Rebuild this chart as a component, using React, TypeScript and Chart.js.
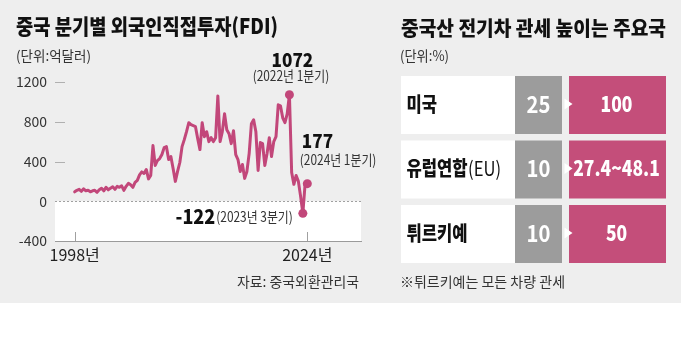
import React, { useEffect, useRef } from "react";
import { Chart, registerables } from "chart.js";
Chart.register(...registerables);

// ---------- data ----------
const startYear = 1998; // first value = 1998 Q1, quarterly
const fdiValues = [
  95, 110, 120, 100, 125, 105, 110, 95,
  105, 110, 90, 115, 130, 105, 140, 115,
  130, 145, 120, 150, 140, 155, 110, 150,
  180, 165, 140, 190, 210, 265, 295, 280,
  320, 225, 260, 560, 360, 410, 430, 470,
  540, 550, 420, 450, 330, 200, 300, 390,
  550, 620, 700, 790, 770, 760, 750, 630,
  520, 790, 650, 700, 600, 640, 600, 640,
  1060, 600, 700, 880, 720, 680, 580, 710,
  470, 420, 300, 370, 230, 300, 480, 780,
  820, 700, 310, 590, 580, 360, 480, 640,
  450, 600, 650, 970, 960, 840, 790, 880,
  1072, 290, 170, 260, 200, 49, -122, 170, 177,
];
const yTicks = [-400, 0, 400, 800, 1200];
const xTickYears = [1998, 2024];
const highlightIndex = [96, 102, 104];
const highlightValue = ["1072", "-122", "177"];
const highlightPeriod = ["(2022년 1분기)", "(2023년 3분기)", "(2024년 1분기)"];

const countries = ["미국", "유럽연합", "튀르키예"];
const countrySuffix = ["", "(EU)", ""];
const tariffBefore = ["25", "10", "10"];
const tariffAfter = ["100", "27.4~48.1", "50"];

// ---------- style ----------
const FONT = "'Noto Sans CJK KR', 'Noto Sans', sans-serif";
const PINK = "#c2477a";
const PINK_BOX = "#c44e7a";
const GRAY_BOX = "#9c9c9c";
const BG = "#eeeeee";

function fitText(
  ctx: CanvasRenderingContext2D,
  text: string,
  x: number,
  cy: number,
  font: string,
  color: string,
  width: number,
  align: "left" | "right" | "center" = "left"
) {
  ctx.save();
  ctx.font = font;
  const w = ctx.measureText(text).width;
  const s = width / w;
  const left = align === "left" ? x : align === "right" ? x - width : x - width / 2;
  ctx.fillStyle = color;
  ctx.textBaseline = "middle";
  ctx.textAlign = "left";
  ctx.translate(left, cy);
  ctx.scale(s, 1);
  ctx.fillText(text, 0, 0);
  ctx.restore();
}

function scaledText(
  ctx: CanvasRenderingContext2D,
  text: string,
  x: number,
  cy: number,
  font: string,
  color: string,
  s: number,
  align: "left" | "center" = "left"
) {
  ctx.save();
  ctx.font = font;
  const w = ctx.measureText(text).width * s;
  const left = align === "left" ? x : x - w / 2;
  ctx.fillStyle = color;
  ctx.textBaseline = "middle";
  ctx.textAlign = "left";
  ctx.translate(left, cy);
  ctx.scale(s, 1);
  ctx.fillText(text, 0, 0);
  ctx.restore();
  return w;
}

const bgPlugin = {
  id: "bgPlugin",
  beforeDraw(chart: any) {
    const { ctx, chartArea: a, scales } = chart;
    const y = scales.y;
    const x = scales.x;
    ctx.save();
    ctx.fillStyle = "#ffffff";
    ctx.fillRect(0, 0, chart.width, chart.height);
    ctx.fillStyle = BG;
    ctx.fillRect(0, 0, chart.width, 303);
    const y0 = y.getPixelForValue(0);
    ctx.fillStyle = "#ffffff";
    ctx.fillRect(a.left, y0, a.right - a.left, a.bottom - y0);
    // zero dotted line
    ctx.strokeStyle = "#a0a0a0";
    ctx.lineWidth = 1;
    ctx.setLineDash([2, 2]);
    ctx.beginPath();
    ctx.moveTo(a.left, Math.round(y0) + 0.5);
    ctx.lineTo(a.right, Math.round(y0) + 0.5);
    ctx.stroke();
    ctx.setLineDash([]);
    // short tick dashes for positive y ticks
    ctx.strokeStyle = "#b0b0b0";
    yTicks
      .filter((v) => v > 0)
      .forEach((v) => {
        const py = Math.round(y.getPixelForValue(v)) + 0.5;
        ctx.beginPath();
        ctx.moveTo(a.left, py);
        ctx.lineTo(a.left + 10, py);
        ctx.stroke();
      });
    // x tick marks pointing up
    ctx.strokeStyle = "#a0a0a0";
    xTickYears.forEach((yr) => {
      const px = Math.round(x.getPixelForValue(yr)) + 0.5;
      ctx.beginPath();
      ctx.moveTo(px, a.bottom);
      ctx.lineTo(px, a.bottom - 9);
      ctx.stroke();
    });

    // ---- right table ----
    const rowTop0 = 76;
    const rowH = 58;
    const rowGap = 6.5;
    const labelX0 = 401;
    const grayX0 = 515;
    const grayX1 = 562;
    const pinkX0 = 569;
    const pinkX1 = 666;
    countries.forEach((c, i) => {
      const top = rowTop0 + i * (rowH + rowGap);
      const cy = top + rowH / 2;
      ctx.fillStyle = "#ffffff";
      ctx.fillRect(labelX0, top, grayX0 - labelX0, rowH);
      ctx.fillStyle = GRAY_BOX;
      ctx.fillRect(grayX0, top, grayX1 - grayX0, rowH);
      ctx.fillStyle = PINK_BOX;
      ctx.fillRect(pinkX0, top, pinkX1 - pinkX0, rowH);
      // white arrow notch
      ctx.fillStyle = "#ffffff";
      ctx.beginPath();
      ctx.moveTo(564.5, cy - 6.5);
      ctx.lineTo(572.5, cy - 1);
      ctx.lineTo(564.5, cy + 4.5);
      ctx.closePath();
      ctx.fill();
      // labels
      const w1 = scaledText(ctx, c, 406.5, cy - 1, `900 20px ${FONT}`, "#111111", 0.83);
      if (countrySuffix[i]) {
        scaledText(ctx, countrySuffix[i], 406.5 + w1 + 0.5, cy - 1, `20px ${FONT}`, "#111111", 0.83);
      }
      scaledText(ctx, tariffBefore[i], (grayX0 + grayX1) / 2, cy - 1, `bold 23px ${FONT}`, "#ffffff", 0.88, "center");
      scaledText(ctx, tariffAfter[i], (pinkX0 + pinkX1) / 2 - 1, cy - 1, `900 21px ${FONT}`, "#ffffff", 0.83, "center");
    });
    ctx.restore();
  },
};

const overlayPlugin = {
  id: "overlayPlugin",
  afterDraw(chart: any) {
    const { ctx } = chart;
    const meta = chart.getDatasetMeta(0);
    // titles
    fitText(ctx, "중국 분기별 외국인직접투자(FDI)", 16, 26, `900 21px ${FONT}`, "#111111", 262);
    fitText(ctx, "(단위:억달러)", 16, 56, `14px ${FONT}`, "#333333", 75);
    fitText(ctx, "중국산 전기차 관세 높이는 주요국", 401, 28, `900 20px ${FONT}`, "#111111", 265);
    fitText(ctx, "(단위:%)", 400, 55.5, `14px ${FONT}`, "#333333", 49);
    fitText(ctx, "자료: 중국외환관리국", 359, 282, `14px ${FONT}`, "#333333", 122, "right");
    fitText(ctx, "※튀르키예는 모든 차량 관세", 400, 282, `14px ${FONT}`, "#333333", 165);

    // annotations anchored on points
    const p0 = meta.data[highlightIndex[0]];
    scaledText(ctx, highlightValue[0], p0.x + 3, p0.y - 35, `900 19px ${FONT}`, "#111111", 0.9, "center");
    scaledText(ctx, highlightPeriod[0], p0.x + 1.5, p0.y - 19, `14px ${FONT}`, "#333333", 0.85, "center");

    const p1 = meta.data[highlightIndex[1]];
    const pw = scaledText(ctx, highlightPeriod[1], -1000, -1000, `14px ${FONT}`, "#333333", 0.85);
    const periodLeft = p1.x - 10 - pw;
    scaledText(ctx, highlightPeriod[1], periodLeft, p1.y + 3, `14px ${FONT}`, "#333333", 0.85);
    ctx.save();
    ctx.font = `900 20px ${FONT}`;
    const vw = ctx.measureText(highlightValue[1]).width * 0.9;
    ctx.restore();
    scaledText(ctx, highlightValue[1], periodLeft - vw - 1, p1.y + 3, `900 20px ${FONT}`, "#111111", 0.9);

    const p2 = meta.data[highlightIndex[2]];
    scaledText(ctx, highlightValue[2], p2.x - 5.5, p2.y - 43, `900 19px ${FONT}`, "#111111", 0.9);
    scaledText(ctx, highlightPeriod[2], p2.x - 7.5, p2.y - 23.5, `14px ${FONT}`, "#333333", 0.85);
  },
};

export default function App() {
  const ref = useRef<HTMLCanvasElement>(null);
  useEffect(() => {
    document.body.style.margin = "0";
    const canvas = ref.current as HTMLCanvasElement;
    const chart = new Chart(canvas, {
      type: "line",
      data: {
        datasets: [
          {
            data: fdiValues.map((v, i) => ({ x: startYear + i / 4, y: v })),
            borderColor: PINK,
            borderWidth: 3,
            tension: 0,
            borderJoinStyle: "round",
            borderCapStyle: "round",
            fill: false,
            pointRadius: (c: any) => (highlightIndex.includes(c.dataIndex) ? 4.5 : 0),
            pointHoverRadius: 0,
            pointBackgroundColor: PINK,
            pointBorderColor: PINK,
            pointBorderWidth: 0,
          } as any,
        ],
      },
      options: {
        responsive: false,
        animation: false,
        devicePixelRatio: 1,
        events: [],
        layout: { padding: { left: 0, top: 82, right: 320, bottom: 80 } },
        plugins: {
          legend: { display: false },
          tooltip: { enabled: false },
          title: { display: false },
        },
        scales: {
          x: {
            type: "linear",
            min: 1995.8,
            max: 2030,
            grid: { display: false, drawTicks: false },
            border: { display: true, color: "#9a9a9a", width: 1 },
            ticks: {
              padding: 4,
              autoSkip: false,
              maxRotation: 0,
              color: "#222222",
              font: { family: FONT, size: 16 },
              callback: (v: any) => `${v}년`,
            },
            afterBuildTicks: (s: any) => {
              s.ticks = xTickYears.map((v) => ({ value: v }));
            },
            afterFit: (s: any) => {
              s.height = 30;
            },
          },
          y: {
            min: -400,
            max: 1200,
            grid: { display: false, drawTicks: false },
            border: { display: false },
            ticks: {
              padding: 8,
              color: "#333333",
              font: { family: FONT, size: 14 },
              callback: (v: any) => String(v),
            },
            afterBuildTicks: (s: any) => {
              s.ticks = yTicks.map((v) => ({ value: v }));
            },
            afterFit: (s: any) => {
              s.width = 55;
            },
          },
        },
      } as any,
      plugins: [bgPlugin, overlayPlugin],
    });
    return () => chart.destroy();
  }, []);
  return (
    <div style={{ width: 681, height: 351, position: "relative" }}>
      <canvas ref={ref} width={681} height={351} style={{ display: "block", width: 681, height: 351 }} />
    </div>
  );
}
